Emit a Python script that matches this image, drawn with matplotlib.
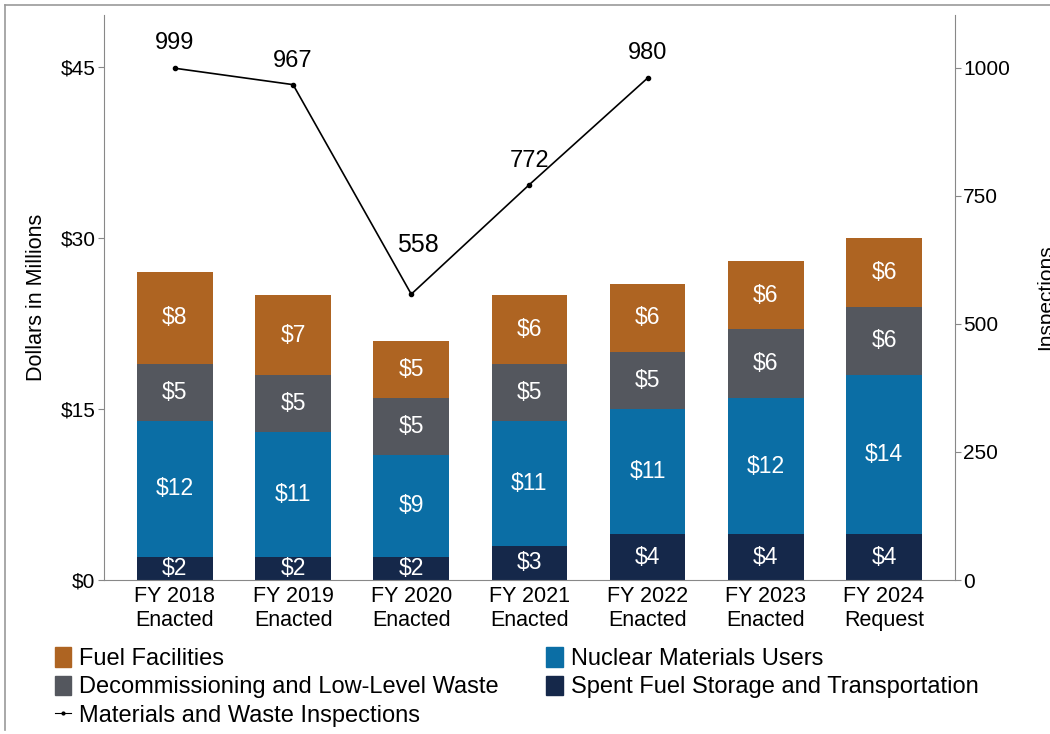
import numpy as np
import matplotlib.pyplot as plt
from matplotlib.patches import Patch
from matplotlib.lines import Line2D

plt.rcParams['font.family'] = ['Liberation Sans', 'DejaVu Sans']

years = ['FY 2018\nEnacted', 'FY 2019\nEnacted', 'FY 2020\nEnacted', 'FY 2021\nEnacted',
         'FY 2022\nEnacted', 'FY 2023\nEnacted', 'FY 2024\nRequest']
spent_fuel = [2, 2, 2, 3, 4, 4, 4]
nuclear_users = [12, 11, 9, 11, 11, 12, 14]
decommissioning = [5, 5, 5, 5, 5, 6, 6]
fuel_facilities = [8, 7, 5, 6, 6, 6, 6]
inspections = [999, 967, 558, 772, 980]

series = [
    ('Spent Fuel Storage and Transportation', spent_fuel, '#15284a'),
    ('Nuclear Materials Users', nuclear_users, '#0b6ea5'),
    ('Decommissioning and Low-Level Waste', decommissioning, '#54575e'),
    ('Fuel Facilities', fuel_facilities, '#ae6422'),
]

fig = plt.figure(figsize=(10.5, 7.34), dpi=100)
ax = fig.add_axes([0.099, 0.2098, 0.8105, 0.7698])
x = np.arange(len(years))

bottom = np.zeros(len(years))
for name, vals, color in series:
    vals = np.array(vals, dtype=float)
    ax.bar(x, vals, 0.64, bottom=bottom, color=color)
    for xi, b, v in zip(x, bottom, vals):
        ax.text(xi, b + v / 2, f'${v:.0f}', ha='center', va='center',
                color='white', fontsize=16.5)
    bottom += vals

ax.set_xlim(-0.6, 6.6)
ax.set_ylim(0, 49.6)
ax.set_yticks([0, 15, 30, 45])
ax.set_yticklabels(['$0', '$15', '$30', '$45'])
ax.set_xticks(x)
ax.set_xticklabels(years, linespacing=1.2)
ax.tick_params(axis='x', length=0, labelsize=15.5, pad=4)
ax.tick_params(axis='y', length=4, color='#888888', labelsize=15, pad=2)
ax.set_ylabel('Dollars in Millions', fontsize=15.5, labelpad=10)
for s in ['top', 'right']:
    ax.spines[s].set_visible(False)
for s in ['left', 'bottom']:
    ax.spines[s].set_color('#888888')

# inspections on the secondary axis
ax2 = ax.twinx()
ax2.set_ylim(0, 1103)
ax2.set_yticks([0, 250, 500, 750, 1000])
ax2.tick_params(axis='y', length=4, color='#888888', labelsize=15, pad=2)
for s in ['top', 'left', 'bottom']:
    ax2.spines[s].set_visible(False)
ax2.spines['right'].set_color('#888888')
xi = x[:len(inspections)]
ax2.plot(xi, inspections, color='black', lw=1.2, marker='o', markersize=3)
offsets = [(0, 25), (0, 24), (7, 49), (0, 24), (0, 25)]
for px, v, off in zip(xi, inspections, offsets):
    ax2.annotate(str(v), (px, v), xytext=off, textcoords='offset pixels',
                 ha='center', va='center', fontsize=18 if v == 558 else 17)

fig.text(1046 / 1050, 1 - 297 / 734, 'Inspections', rotation=90,
         ha='center', va='center', fontsize=15)

handles = [
    Patch(color='#ae6422', label='Fuel Facilities'),
    Patch(color='#54575e', label='Decommissioning and Low-Level Waste'),
    Line2D([], [], color='black', lw=0.8, marker='o', markersize=2,
           label='Materials and Waste Inspections'),
    Patch(color='#0b6ea5', label='Nuclear Materials Users'),
    Patch(color='#15284a', label='Spent Fuel Storage and Transportation'),
]
fig.legend(handles=handles, ncol=2, loc='upper left', bbox_to_anchor=(0.052, 0.118),
           frameon=False, fontsize=17, handlelength=0.7, handleheight=0.9,
           handletextpad=0.35, columnspacing=2.0, labelspacing=0.22,
           borderaxespad=0, borderpad=0)

# thin frame along the top and left edges
fig.add_artist(Line2D([0.005, 1.0], [0.993, 0.993], color='#999999', lw=1.2,
                      transform=fig.transFigure))
fig.add_artist(Line2D([0.005, 0.005], [0.005, 0.993], color='#999999', lw=1.2,
                      transform=fig.transFigure))

fig.savefig('out.png', dpi=100)
